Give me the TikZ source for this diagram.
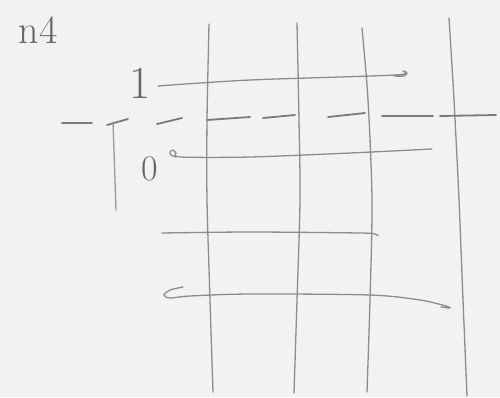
\documentclass[tikz,border=0pt]{standalone}
\begin{document}
\begin{tikzpicture}[x=1pt,y=-1pt,
  pencil/.style={draw=black!45, line width=1.3pt, line cap=round, line join=round},
  dashpart/.style={draw=black!52, line width=1.8pt, line cap=round},
  label/.style={text=black!60, inner sep=0pt}]
\fill[black!5] (0,0) rectangle (500,397);
\useasboundingbox (0,0) rectangle (500,397);
% vertical lines
\draw[pencil] plot[smooth] coordinates {(209,24) (207,120) (207,200) (210,300) (213,392)};
\draw[pencil] plot[smooth] coordinates {(297,23) (299,120) (300,200) (297,300) (294,393)};
\draw[pencil] plot[smooth] coordinates {(362,28) (368,100) (372,200) (370,300) (367,392)};
\draw[pencil] plot[smooth] coordinates {(449,18) (454,100) (459,200) (463,300) (467,396)};
% horizontal lines
\draw[pencil] plot[smooth] coordinates {(158,86) (250,80) (395,75) (403,71) (407,73) (404,76) (394,76)};
\draw[pencil] plot[smooth] coordinates {(176,157) (171,155) (170,152) (173,150) (176,153) (181,157) (250,157) (350,153) (432,149)};
\draw[pencil] plot[smooth] coordinates {(162,233) (250,232) (360,233) (375,234) (378,236)};
\draw[pencil] plot[smooth] coordinates {(183,287) (170,290) (164,295) (170,298) (190,296) (250,294) (370,295) (420,300) (446,306) (450,308) (441,307)};
% dashed line
\draw[dashpart] (62,123) -- (92,123);
\draw[dashpart] (107,125) -- (128,119);
\draw[pencil, draw=black!40] (113,122) -- (116,210);
\draw[dashpart] (157,124) -- (182,118);
\draw[dashpart] (207,120) -- (250,117);
\draw[dashpart] (263,118) -- (295,115);
\draw[dashpart] (328,117) -- (365,113);
\draw[dashpart] (382,116) -- (433,116);
\draw[dashpart] (440,116) -- (496,115);
% labels
\node[label, font=\fontsize{46}{46}\selectfont] (one) at (140,83) {1};
\node[label, font=\fontsize{36}{36}\selectfont] (zero) at (150,169) {0};
\node[label, font=\fontsize{40}{40}\selectfont] (title) at (38,30) {n4};
\end{tikzpicture}
\end{document}
